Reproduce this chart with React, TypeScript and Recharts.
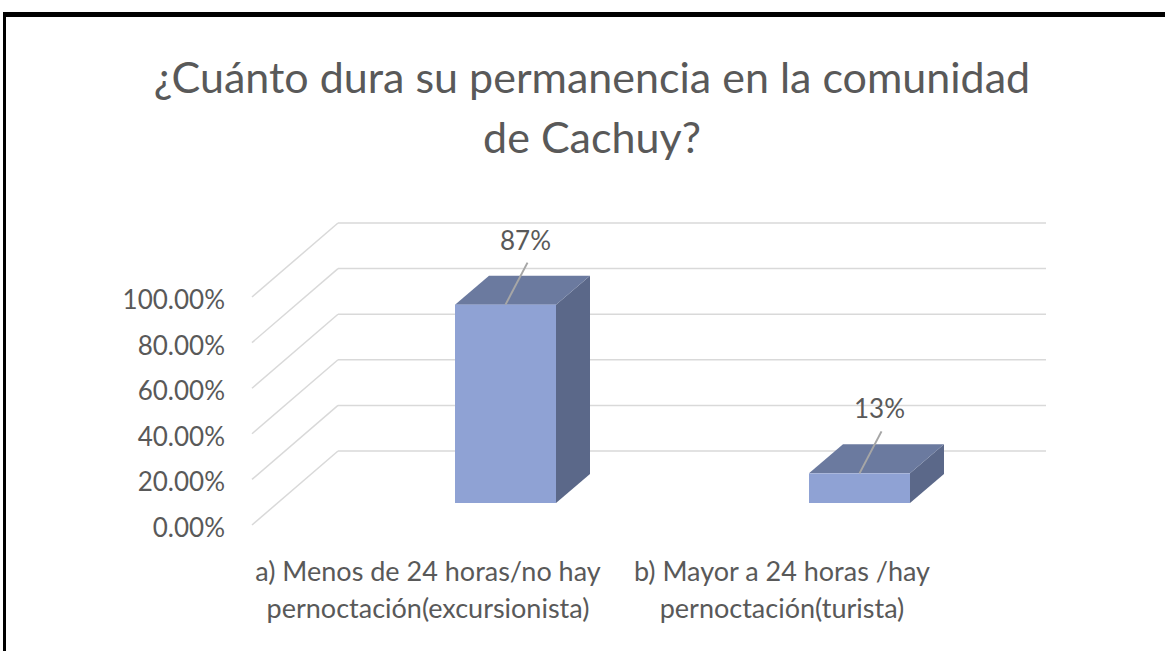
import React from "react";
import { BarChart, Bar, XAxis, YAxis, CartesianGrid, LabelList } from "recharts";

const categories = [
  "a) Menos de 24 horas/no hay\npernoctación(excursionista)",
  "b) Mayor a 24 horas /hay\npernoctación(turista)",
];
const values = [0.87, 0.13];
const valueLabels = ["87%", "13%"];
const yTicks = [0, 0.2, 0.4, 0.6, 0.8, 1.0];
const titleLines = ["¿Cuánto dura su permanencia en la comunidad", "de Cachuy?"];

const data = categories.map((c, i) => ({ name: c, value: values[i], label: valueLabels[i] }));

const FONT = "Lato, 'Open Sans', sans-serif";
const TEXT = "#595959";
const GRID = "#D9D9D9";
const FRONT = "#8FA2D4";
const TOP = "#6B7A9F";
const SIDE = "#5B6889";

// 3D geometry (relative to bar plane)
const BAR_DX = 34;
const BAR_DY = -29;
const BACK_DX = 10;
const BACK_DY = -52;
const FRONT_DX = -76;
const FRONT_DY = 22;

const Box3D = (props: any) => {
  const { x, y, width, height } = props;
  const b = y + height;
  const r = x + width;
  return (
    <g>
      <polygon points={`${r},${y} ${r + BAR_DX},${y + BAR_DY} ${r + BAR_DX},${b + BAR_DY} ${r},${b}`} fill={SIDE} />
      <polygon points={`${x},${y} ${x + BAR_DX},${y + BAR_DY} ${r + BAR_DX},${y + BAR_DY} ${r},${y}`} fill={TOP} />
      <rect x={x} y={y} width={width} height={height} fill={FRONT} />
    </g>
  );
};

const GridLine = (props: any) => {
  const { x1, x2, y1 } = props;
  const bx = x1 + BACK_DX;
  const by = y1 + BACK_DY;
  return (
    <g>
      <line x1={x1 + FRONT_DX} y1={y1 + FRONT_DY} x2={bx} y2={by} stroke={GRID} strokeWidth={1.5} />
      <line x1={bx} y1={by} x2={x2 + BACK_DX} y2={by} stroke={GRID} strokeWidth={1.5} />
    </g>
  );
};

const YTick = (props: any) => {
  const { x, y, payload } = props;
  return (
    <text x={x} y={y + FRONT_DY + 2} textAnchor="end" dominantBaseline="central" fill={TEXT} fontSize={26} fontFamily={FONT}>
      {(payload.value * 100).toFixed(2) + "%"}
    </text>
  );
};

const XTick = (props: any) => {
  const { x, y, payload } = props;
  const lines = String(payload.value).split("\n");
  return (
    <g>
      {lines.map((l, i) => (
        <text key={i} x={x - 77} y={y + 67 + i * 37} textAnchor="middle" dominantBaseline="central" fill={TEXT} fontSize={27} fontFamily={FONT}>
          {l}
        </text>
      ))}
    </g>
  );
};

const ValueLabel = (props: any) => {
  const { x, y, width, value } = props;
  const cx = x + width / 2;
  return (
    <g>
      <line x1={cx} y1={y} x2={cx + 22} y2={y - 42} stroke="#A6A6A6" strokeWidth={2} />
      <text x={cx + 20} y={y - 65} textAnchor="middle" dominantBaseline="central" fill={TEXT} fontSize={26} fontFamily={FONT}>
        {value}
      </text>
    </g>
  );
};

export default function App() {
  return (
    <div style={{ position: "absolute", left: 0, top: 0, width: 1165, height: 651, overflow: "hidden", background: "#fff" }}>
      <div
        style={{
          position: "absolute",
          left: 3,
          top: 12,
          width: 1200,
          height: 700,
          borderTop: "5px solid #000",
          borderLeft: "3px solid #000",
        }}
      />
      {titleLines.map((t, i) => (
        <div
          key={i}
          style={{
            position: "absolute",
            left: 0,
            width: 1184,
            top: 77 + i * 60 - 25,
            height: 50,
            lineHeight: "50px",
            textAlign: "center",
            fontFamily: FONT,
            fontSize: 43,
            color: TEXT,
            whiteSpace: "nowrap",
          }}
        >
          {t}
        </div>
      ))}
      <div style={{ position: "absolute", left: 0, top: 0 }}>
        <BarChart width={1165} height={651} data={data} margin={{ top: 275, right: 129, bottom: 0, left: 0 }} barCategoryGap={0}>
          <CartesianGrid vertical={false} horizontal={(p: any) => <GridLine key={p.key ?? p.index} {...p} />} />
          <XAxis dataKey="name" height={148} axisLine={false} tickLine={false} tickSize={0} tickMargin={0} tick={<XTick />} interval={0} />
          <YAxis
            width={328}
            domain={[0, 1]}
            ticks={yTicks}
            axisLine={false}
            tickLine={false}
            tickSize={0}
            tickMargin={103}
            tick={<YTick />}
          />
          <Bar dataKey="value" barSize={101} shape={<Box3D />} isAnimationActive={false}>
            <LabelList dataKey="label" content={<ValueLabel />} />
          </Bar>
        </BarChart>
      </div>
    </div>
  );
}
